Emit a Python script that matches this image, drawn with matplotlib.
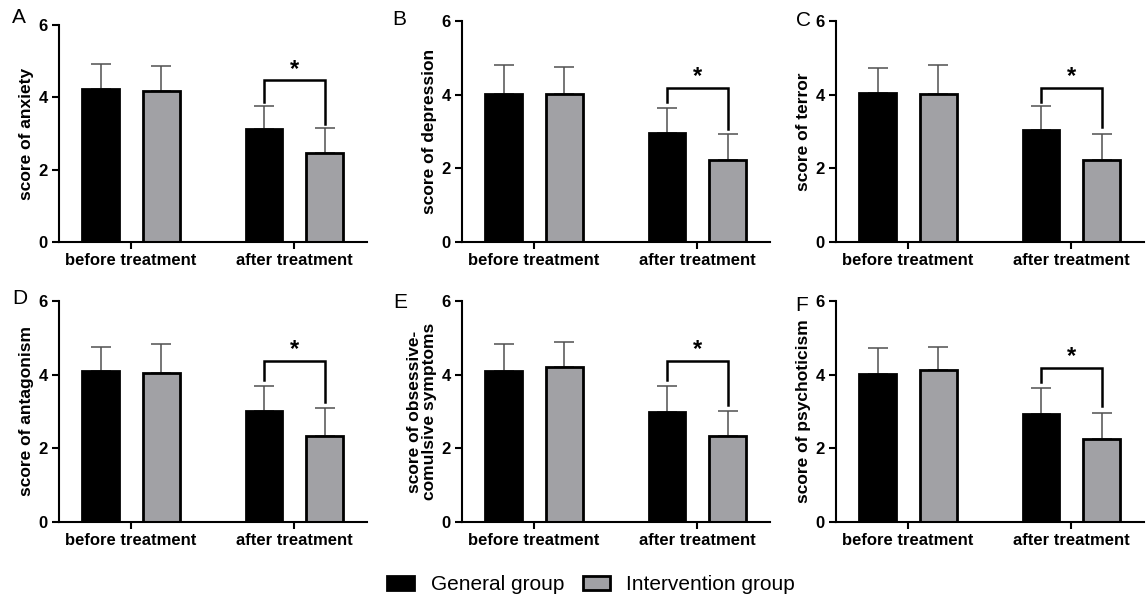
import numpy as np
import matplotlib
matplotlib.use("Agg")
import matplotlib.pyplot as plt
from matplotlib.patches import Patch

plt.rcParams['font.family'] = ['Liberation Sans', 'DejaVu Sans']

# Data (mean, upper error bar end, bracket)
groups = ['before treatment', 'after treatment']
panels = ['A', 'B', 'C', 'D', 'E', 'F']
ylabels = ['score of anxiety', 'score of depression', 'score of terror',
           'score of antagonism', 'score of obsessive-\ncomulsive symptoms',
           'score of psychoticism']

general_mean = [[4.24, 3.12], [4.03, 2.96], [4.04, 3.03],
                [4.09, 3.01], [4.11, 2.99], [4.01, 2.92]]
general_top = [[4.93, 3.77], [4.81, 3.65], [4.73, 3.70],
               [4.75, 3.68], [4.83, 3.68], [4.72, 3.64]]
interv_mean = [[4.18, 2.47], [4.02, 2.23], [4.02, 2.23],
               [4.05, 2.33], [4.22, 2.33], [4.14, 2.24]]
interv_top = [[4.88, 3.15], [4.74, 2.93], [4.81, 2.93],
              [4.82, 3.10], [4.90, 3.01], [4.75, 2.96]]
# bracket: top, left leg end, right leg end
bracket = [[4.47, 3.87, 3.25], [4.19, 3.80, 3.08], [4.17, 3.80, 3.12],
           [4.36, 3.85, 3.26], [4.36, 3.86, 3.17], [4.18, 3.80, 3.14]]

gray = '#a1a1a5'
W, H = 1148, 599
fig = plt.figure(figsize=(W / 100, H / 100), dpi=100)

# axes boxes in pixels: left, top(y=6), bottom(y=0)
lefts = [59, 462, 836, 59, 462, 836]
tops = [25, 21, 21, 301, 301, 301]
bottoms = [242, 242, 242, 522, 522, 522]
width_px = 308
letter_pos = [(12, 23), (392, 25), (796, 26), (12, 304), (393, 308), (795, 311)]

off = 0.185
bw = 0.225
x = np.arange(len(groups))

for i in range(6):
    l, t, b = lefts[i], tops[i], bottoms[i]
    ax = fig.add_axes([l / W, 1 - b / H, width_px / W, (b - t) / H])
    gm = np.array(general_mean[i]); gt = np.array(general_top[i])
    im = np.array(interv_mean[i]); it = np.array(interv_top[i])

    ax.errorbar(x - off, gm, yerr=[np.zeros(2), gt - gm], fmt='none',
                ecolor='#505050', elinewidth=1.1, capsize=7, capthick=1.1, zorder=1)
    ax.errorbar(x + off, im, yerr=[np.zeros(2), it - im], fmt='none',
                ecolor='#505050', elinewidth=1.1, capsize=7, capthick=1.1, zorder=1)
    ax.bar(x - off, gm, bw, color='black', edgecolor='black', linewidth=2, zorder=2)
    ax.bar(x + off, im, bw, color=gray, edgecolor='black', linewidth=2, zorder=2)

    btop, bl, br = bracket[i]
    ax.plot([1 - off, 1 - off, 1 + off, 1 + off], [bl, btop, btop, br],
            color='black', lw=1.8, solid_joinstyle='miter', zorder=3)
    ax.text(1, btop + 0.38, '*', ha='center', va='center_baseline',
            fontsize=17, fontweight='bold')

    ax.set_xlim(-0.44, 1.445)
    ax.set_ylim(0, 6)
    ax.set_yticks([0, 2, 4, 6])
    ax.set_xticks(x)
    ax.set_xticklabels(groups, fontsize=12, fontweight='bold')
    for lab in ax.get_yticklabels():
        lab.set_fontweight('bold')
        lab.set_fontsize(12)
    ax.set_ylabel(ylabels[i], fontsize=12.5, fontweight='bold', labelpad=3,
                  linespacing=1.0)
    for s in ['top', 'right']:
        ax.spines[s].set_visible(False)
    for s in ['left', 'bottom']:
        ax.spines[s].set_linewidth(1.5)
    ax.tick_params(axis='both', direction='out', length=5, width=1.5, pad=3)
    ax.patch.set_alpha(0)

    lx, ly = letter_pos[i]
    fig.text(lx / W, 1 - ly / H, panels[i], fontsize=15, va='baseline', ha='left')

handles = [Patch(facecolor='black', edgecolor='black', linewidth=2),
           Patch(facecolor=gray, edgecolor='black', linewidth=2)]
fig.legend(handles, ['General group', 'Intervention group'], loc='center',
           bbox_to_anchor=(591 / W, 1 - 585 / H), ncol=2, frameon=False,
           fontsize=15, handlelength=1.3, handleheight=0.63,
           handletextpad=0.8, columnspacing=0.9)

fig.savefig('out.png', dpi=100)
